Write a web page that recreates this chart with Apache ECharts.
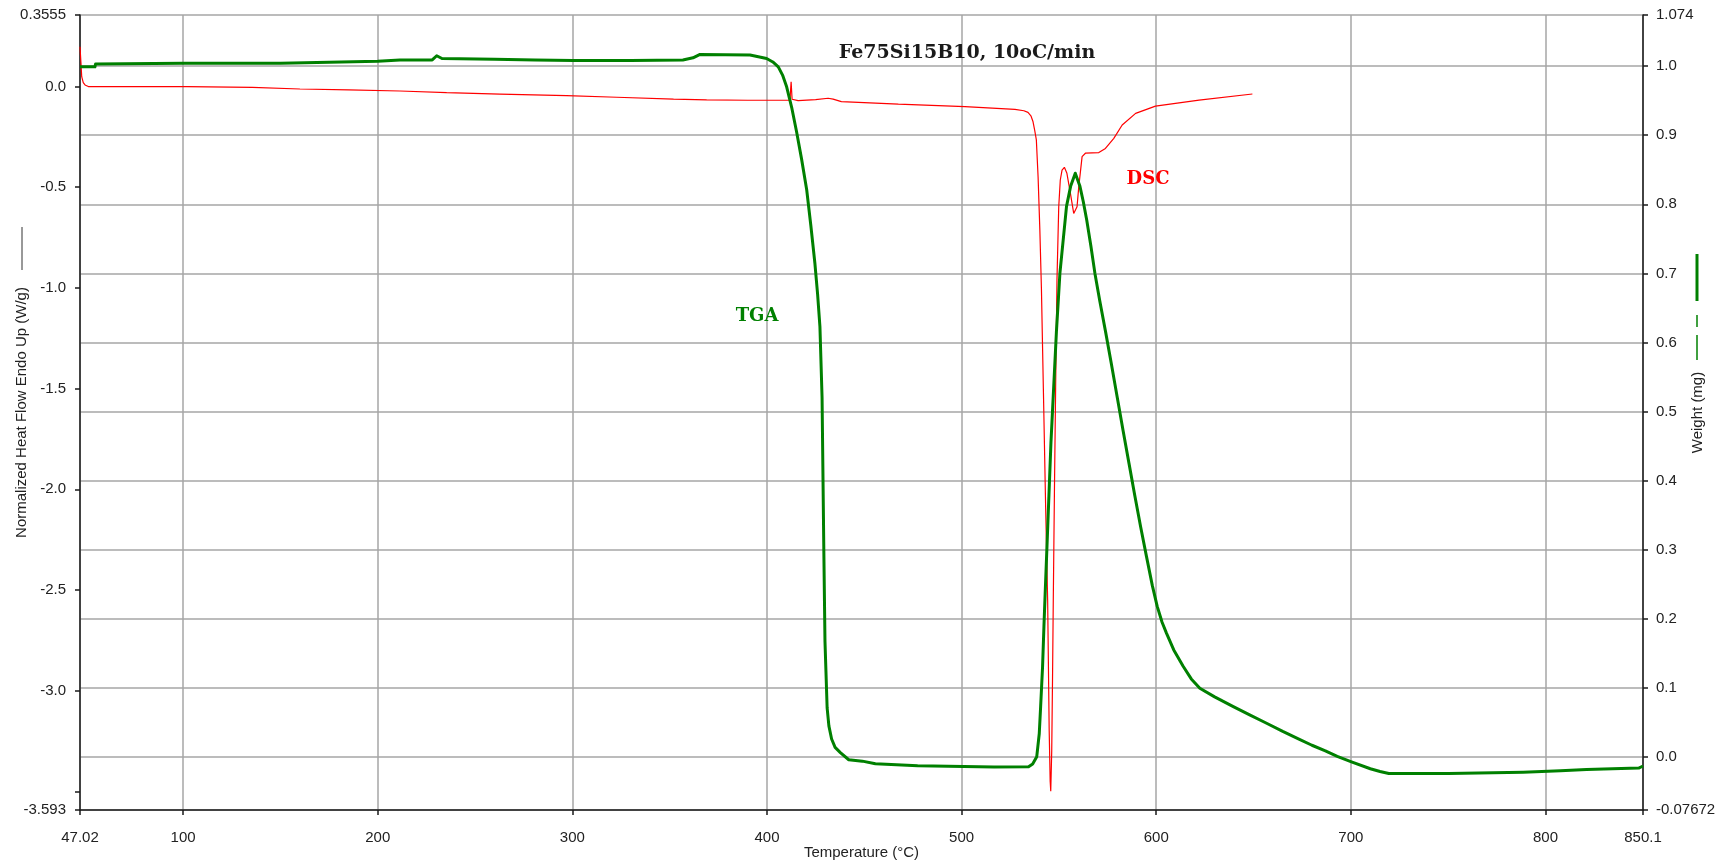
<!DOCTYPE html>
<html>
<head>
<meta charset="utf-8">
<title>Fe75Si15B10 DSC / TGA</title>
<script src="https://cdn.jsdelivr.net/npm/echarts@6/dist/echarts.min.js"></script>
<style>
  html, body { margin: 0; padding: 0; background: #ffffff; }
  #chart { width: 1735px; height: 866px; }
</style>
</head>
<body>
<div id="chart"></div>
<script>
// Temperature axis ticks (°C)
const temperatureTicks = [47.02, 100, 200, 300, 400, 500, 600, 700, 800, 850.1];
const temperatureLabels = ['47.02', '100', '200', '300', '400', '500', '600', '700', '800', '850.1'];

// Heat flow axis (left, W/g)
const heatFlowTicks = [0.3555, 0, -0.5, -1, -1.5, -2, -2.5, -3, -3.5, -3.593];
const heatFlowLabelValues = [0.3555, 0, -0.5, -1, -1.5, -2, -2.5, -3, -3.593];
const heatFlowLabels = ['0.3555', '0.0', '-0.5', '-1.0', '-1.5', '-2.0', '-2.5', '-3.0', '-3.593'];

// Weight axis (right, mg)
const weightTicks = [1.074, 1.0, 0.9, 0.8, 0.7, 0.6, 0.5, 0.4, 0.3, 0.2, 0.1, 0.0, -0.07672];
const weightLabels = ['1.074', '1.0', '0.9', '0.8', '0.7', '0.6', '0.5', '0.4', '0.3', '0.2', '0.1', '0.0', '-0.07672'];

// DSC curve: temperature (°C) and normalized heat flow (W/g)
const dscTemperature = [
  47.02, 47.5, 47.9, 48.7, 49.6, 51.3, 70, 101.8, 102, 135.6, 136, 160, 185, 211.4,
  235.4, 262.8, 297, 322.8, 352, 369, 390, 411.8, 412.4, 412.9, 416, 425, 431.4, 434,
  438.2, 467.5, 501.7, 527.4, 532, 534.1, 535.6, 536.7, 537.6, 538.4, 539.3, 540.2,
  541, 542, 543.2, 544.2, 545, 545.5, 545.8, 546.3, 546.7, 547.1, 547.7, 548.3, 549,
  549.9, 550.7, 551.6, 552.8, 554.1, 555.9, 557.6, 559.3, 560.2, 561.9, 563.6, 570.5,
  573.9, 578.2, 582.5, 589.4, 599.6, 622, 649.4
];
const dscHeatFlow = [
  0.198, 0.12, 0.049, 0.02, 0.008, 0.0, 0.0, 0.0, -0.004, -0.004, -0.012, -0.012, -0.016, -0.022,
  -0.030, -0.037, -0.045, -0.053, -0.062, -0.066, -0.068, -0.068, 0.024, -0.063, -0.070, -0.065, -0.058, -0.062,
  -0.075, -0.087, -0.100, -0.113, -0.120, -0.128, -0.145, -0.175, -0.22, -0.265, -0.45, -0.713,
  -1.0, -1.5, -2.1, -2.55, -3.2, -3.45, -3.50, -3.3, -2.95, -2.55, -2.0, -1.5, -0.96,
  -0.597, -0.464, -0.415, -0.401, -0.431, -0.530, -0.630, -0.597, -0.497, -0.348, -0.331, -0.328,
  -0.307, -0.257, -0.191, -0.133, -0.097, -0.067, -0.037
];

// TGA curve: temperature (°C) and weight (mg)
const tgaTemperature = [
  47.02, 54.7, 55, 100, 150, 151, 200, 211.4, 228, 230.3, 233, 260, 280.8, 300.5, 330,
  356.8, 362, 365.6, 391.3, 399.8, 403, 405.8, 408, 410.1, 412.7, 415.2, 417.8, 420.4,
  422.5, 424.6, 426, 427.2, 428.3, 429.2, 429.8, 430.9, 431.8, 433.2, 435, 437.7, 442,
  449, 455.7, 477.4, 516.7, 534.4, 536.5, 538.6, 539.9, 540.6, 541.6, 542.3, 542.8,
  545.9, 548.7, 550.5, 553.9, 556, 558.4, 560.8, 562.5, 564.3, 566.4, 568.5, 571, 574,
  577, 580, 583, 586, 589, 592, 595, 598, 600.5, 603, 605.3, 609, 613.9, 618, 622.4,
  630, 639.6, 648, 656.7, 665, 673.3, 680, 686.9, 693, 700.3, 710, 715, 719.5, 750.2,
  751, 788.5, 807.7, 821.1, 847.9, 850.1
];
const tgaWeight = [
  0.999, 0.999, 1.003, 1.004, 1.004, 1.006, 1.007, 1.009, 1.009, 1.015, 1.011, 1.010, 1.009, 1.008, 1.008,
  1.009, 1.012, 1.017, 1.016, 1.011, 1.006, 0.999, 0.987, 0.970, 0.940, 0.905, 0.865, 0.821,
  0.770, 0.715, 0.670, 0.623, 0.520, 0.300, 0.167, 0.071, 0.045, 0.026, 0.014, 0.0064, -0.004,
  -0.006, -0.0098, -0.0125, -0.0145, -0.014, -0.010, 0.0005, 0.034, 0.073, 0.131, 0.189, 0.227,
  0.455, 0.615, 0.700, 0.797, 0.826, 0.845, 0.826, 0.804, 0.777, 0.740, 0.700, 0.660, 0.615,
  0.568, 0.520, 0.472, 0.425, 0.378, 0.333, 0.290, 0.248, 0.218, 0.195, 0.179, 0.155, 0.131, 0.113, 0.0995,
  0.087, 0.0729, 0.061, 0.0488, 0.037, 0.026, 0.017, 0.009, 0.001, -0.007, -0.017, -0.021, -0.024, -0.024,
  -0.022, -0.022, -0.020, -0.018, -0.016, -0.013
];

const zip = (xs, ys) => xs.map((x, i) => [x, ys[i]]);
const labelFor = (ticks, labels) => (v) => {
  const i = ticks.findIndex(t => Math.abs(t - v) < 1e-9);
  return i >= 0 ? labels[i] : '';
};

const tickFont = { fontFamily: '"Liberation Sans", Arial, sans-serif', fontSize: 15, color: '#222' };
const nameFont = { fontFamily: '"Liberation Sans", Arial, sans-serif', fontSize: 15, color: '#222' };
const axisLineStyle = { color: '#1a1a1a', width: 1.5 };
const gridStyle = { color: '#a6a6a6', width: 1.5 };

const chart = echarts.init(document.getElementById('chart'), null, { renderer: 'canvas' });

chart.setOption({
  animation: false,
  backgroundColor: '#ffffff',
  grid: { left: 80, right: 92, top: 15, bottom: 56, containLabel: false, outerBoundsMode: 'none' },
  xAxis: {
    type: 'value',
    min: 47.02,
    max: 850.1,
    name: 'Temperature (°C)',
    nameLocation: 'middle',
    nameGap: 35,
    nameMoveOverlap: false,
    nameTextStyle: nameFont,
    axisLine: { show: true, onZero: false, lineStyle: axisLineStyle },
    axisTick: { show: true, inside: false, length: 5, customValues: temperatureTicks, lineStyle: axisLineStyle },
    axisLabel: Object.assign({ customValues: temperatureTicks, margin: 20, hideOverlap: false,
      formatter: labelFor(temperatureTicks, temperatureLabels) }, tickFont),
    splitLine: { show: true, lineStyle: gridStyle }
  },
  yAxis: [
    {
      type: 'value',
      position: 'left',
      min: -3.593,
      max: 0.3555,
      name: 'Normalized Heat Flow Endo Up (W/g)',
      nameLocation: 'middle',
      nameRotate: 90,
      nameGap: 51,
      nameMoveOverlap: false,
      nameTextStyle: nameFont,
      axisLine: { show: true, onZero: false, lineStyle: axisLineStyle },
      axisTick: { show: true, inside: false, length: 5, customValues: heatFlowTicks, lineStyle: axisLineStyle },
      axisLabel: Object.assign({ customValues: heatFlowLabelValues, margin: 14, hideOverlap: false,
        formatter: labelFor(heatFlowLabelValues, heatFlowLabels) }, tickFont),
      splitLine: { show: false }
    },
    {
      type: 'value',
      position: 'right',
      min: -0.07672,
      max: 1.074,
      name: 'Weight (mg)',
      nameLocation: 'middle',
      nameRotate: 90,
      nameGap: 47,
      nameMoveOverlap: false,
      nameTextStyle: nameFont,
      axisLine: { show: true, onZero: false, lineStyle: axisLineStyle },
      axisTick: { show: true, inside: false, length: 5, customValues: weightTicks, lineStyle: axisLineStyle },
      axisLabel: Object.assign({ customValues: weightTicks, margin: 13, hideOverlap: false,
        formatter: labelFor(weightTicks, weightLabels) }, tickFont),
      splitLine: { show: true, lineStyle: gridStyle }
    }
  ],
  series: [
    {
      name: 'DSC',
      type: 'line',
      yAxisIndex: 0,
      showSymbol: false,
      symbol: 'none',
      data: zip(dscTemperature, dscHeatFlow),
      lineStyle: { color: '#ff0000', width: 1.2 },
      z: 2
    },
    {
      name: 'TGA',
      type: 'line',
      yAxisIndex: 1,
      showSymbol: false,
      symbol: 'none',
      data: zip(tgaTemperature, tgaWeight),
      lineStyle: { color: '#008000', width: 3, join: 'round' },
      z: 3
    }
  ],
  graphic: [
    { type: 'text', x: 967, y: 53, z: 10,
      style: { text: 'Fe75Si15B10, 10oC/min', font: 'bold 19px "DejaVu Serif", serif', fill: '#1a1a1a',
               textAlign: 'center', textVerticalAlign: 'middle' } },
    { type: 'text', x: 757, y: 316, z: 10,
      style: { text: 'TGA', font: 'bold 18px "DejaVu Serif", serif', fill: '#008000',
               textAlign: 'center', textVerticalAlign: 'middle' } },
    { type: 'text', x: 1148, y: 179, z: 10,
      style: { text: 'DSC', font: 'bold 18px "DejaVu Serif", serif', fill: '#ff0000',
               textAlign: 'center', textVerticalAlign: 'middle' } },
    // line-style keys beside the axis titles
    { type: 'line', shape: { x1: 22, y1: 227, x2: 22, y2: 270 }, style: { stroke: '#333', lineWidth: 1 } },
    { type: 'line', shape: { x1: 1697, y1: 254, x2: 1697, y2: 301 }, style: { stroke: '#008000', lineWidth: 3 } },
    { type: 'line', shape: { x1: 1697, y1: 315, x2: 1697, y2: 327 }, style: { stroke: '#008000', lineWidth: 1.5 } },
    { type: 'line', shape: { x1: 1697, y1: 335, x2: 1697, y2: 360 }, style: { stroke: '#008000', lineWidth: 1.5 } }
  ]
});
</script>
</body>
</html>
